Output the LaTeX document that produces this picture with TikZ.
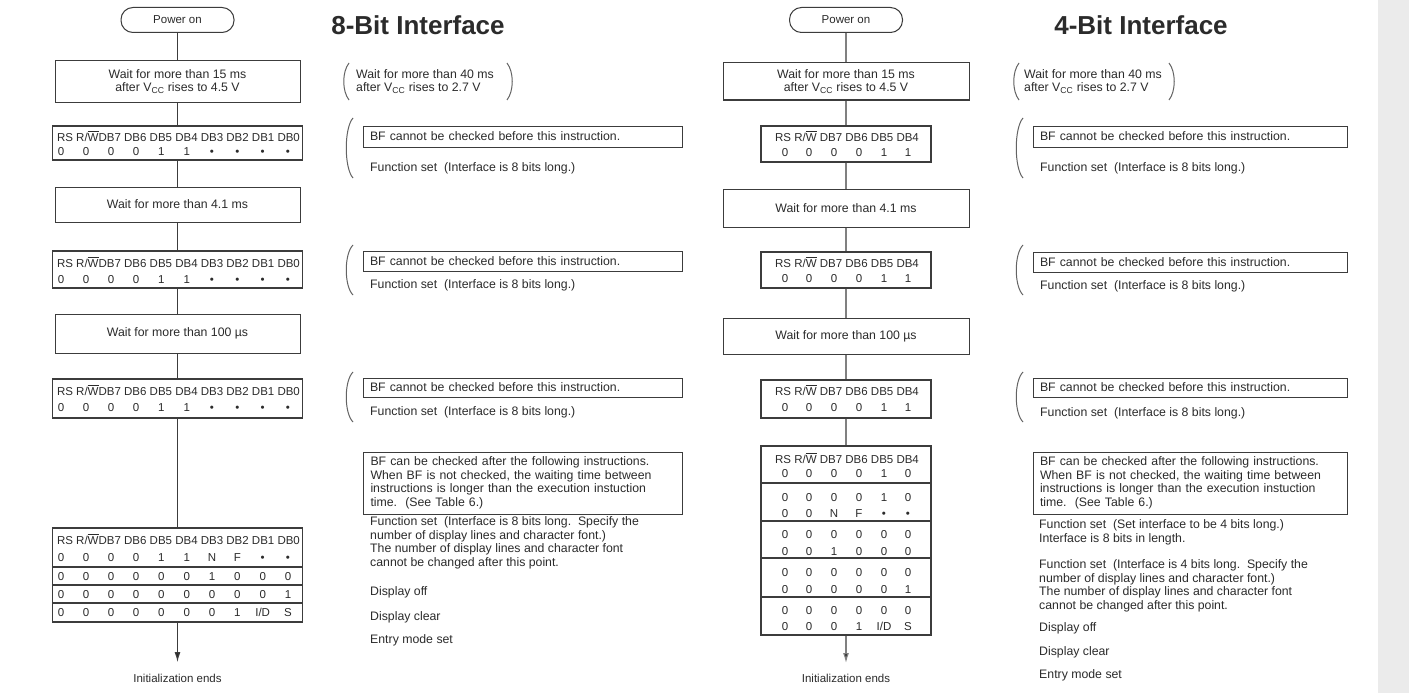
\documentclass[tikz,border=0pt]{standalone}
\usepackage{fontspec}
\setmainfont{Liberation Sans}
\usetikzlibrary{positioning}
\usetikzlibrary{arrows.meta}

\definecolor{ink}{HTML}{2B2B2B}
\definecolor{rule}{HTML}{3C3C3C}
\definecolor{soft}{HTML}{808080}
\definecolor{panel}{HTML}{EBEBEB}

\newcommand\ovl[1]{$\overline{\mbox{#1}}$}
\newcommand\vcc{V\textsubscript{CC}}
\newcommand\bitrow[3]{%
  \foreach \bit [count=\i from 0] in {#3} {
    \pgfmathsetmacro\cx{#1[\i]}
    \node[cell] at (\cx,#2) {\bit};
  }}
\def\colA{{61,86,111,136,161.3,186.7,212,237.3,262.7,288}}
\def\colB{{785,809,834,859,884,908}}
\newcommand\hdA{RS R/\ovl{W}DB7 DB6 DB5 DB4 DB3 DB2 DB1 DB0}
\newcommand\hdB{RS R/\ovl{W} DB7 DB6 DB5 DB4}

\tikzset{
  every node/.style={text=ink},
  txt/.style={font=\fontsize{12.3}{13.5}\selectfont, inner sep=0pt},
  cell/.style={font=\fontsize{11.5}{12}\selectfont, inner sep=0pt, text height=8pt, text depth=0pt},
  startbox/.style={draw=rule, line width=1pt, rounded corners=12pt, minimum width=113pt, minimum height=25pt, font=\fontsize{11.5}{12}\selectfont},
  waitbox/.style={draw=rule, line width=1pt, txt, align=center},
  bittable/.style={draw=rule, line width=1.2pt, inner sep=0pt},
  notebox/.style={draw=rule, line width=1pt, txt, align=left},
  note/.style={txt, anchor=west, align=left},
  flow/.style={draw=rule, line width=1pt},
  flowb/.style={draw=soft, line width=1.2pt},
  brk/.style={draw=rule!80, line width=1pt},
  tip/.style={-{Latex[length=10pt,width=6pt,fill=ink]}},
}

\begin{document}
\begin{tikzpicture}[x=1pt,y=-1pt]
\useasboundingbox (0,0) rectangle (1409,693);
\fill[white] (0,0) rectangle (1409,693);
\fill[panel] (1378,0) rectangle (1409,693);

% 8-bit interface
\node[font=\fontsize{26}{30}\selectfont\bfseries, inner sep=0pt] (titleA) at (418,25) {8-Bit Interface};

\node[startbox] (pwA) at (177.5,20) {Power on};
\node[waitbox, minimum width=245pt, minimum height=41pt] (w1A) at (177.5,81.5) {Wait for more than 15 ms\\after \vcc{} rises to 4.5 V};
\node[bittable, minimum width=250pt, minimum height=34pt] (t1A) at (177.5,143) {};
\node[waitbox, minimum width=245pt, minimum height=35pt] (w2A) at (177.5,204.5) {Wait for more than 4.1 ms};
\node[bittable, minimum width=250pt, minimum height=37pt] (t2A) at (177.5,269.5) {};
\node[waitbox, minimum width=245pt, minimum height=39pt] (w3A) at (177.5,333.5) {Wait for more than 100 µs};
\node[bittable, minimum width=250pt, minimum height=39pt] (t3A) at (177.5,398.5) {};
\node[bittable, minimum width=250pt, minimum height=94pt] (t4A) at (177.5,575) {};
\coordinate (endA) at (177.5,662);
\node[cell] (ieA) at (177.5,678) {Initialization ends};

\node[cell] (h1A) at (178.5,137) {\hdA};
\bitrow{\colA}{151}{0,0,0,0,1,1,•,•,•,•}
\node[cell] (h2A) at (178.5,263) {\hdA};
\bitrow{\colA}{279}{0,0,0,0,1,1,•,•,•,•}
\node[cell] (h3A) at (178.5,391) {\hdA};
\bitrow{\colA}{407}{0,0,0,0,1,1,•,•,•,•}
\node[cell] (h4A) at (178.5,540) {\hdA};
\bitrow{\colA}{557}{0,0,0,0,1,1,N,F,•,•}
\bitrow{\colA}{576}{0,0,0,0,0,0,1,0,0,0}
\bitrow{\colA}{594}{0,0,0,0,0,0,0,0,0,1}
\bitrow{\colA}{612}{0,0,0,0,0,0,0,1,I/D,S}
\foreach \yy in {567,585,603}
  \draw[bittable] (t4A.west |- 0,\yy) -- (t4A.east |- 0,\yy);

\draw[flow] (pwA) -- (w1A);
\draw[flow] (w1A) -- (t1A);
\draw[flow] (t1A) -- (w2A);
\draw[flow] (w2A) -- (t2A);
\draw[flow] (t2A) -- (w3A);
\draw[flow] (w3A) -- (t3A);
\draw[flow] (t3A) -- (t4A);
\draw[flow,tip] (t4A) -- (endA);

% notes, 8-bit
\draw[brk] (349,63) .. controls (342,72) and (342,91) .. (349,100);
\draw[brk] (507,63) .. controls (514,72) and (514,91) .. (507,100);
\node[note] (vccA) at (356,81.5) {Wait for more than 40 ms\\after \vcc{} rises to 2.7 V};

\draw[brk] (353,118) .. controls (344,128) and (344,168) .. (353,178);
\node[notebox, text width=305pt, minimum width=319pt, minimum height=21pt] (bf1A) at (522.5,136.5) {BF cannot be checked before this instruction.};
\node[note] (fs1A) at (370,168) {Function set\ \ (Interface is 8 bits long.)};

\draw[brk] (353,245) .. controls (344,254) and (344,286) .. (353,295);
\node[notebox, text width=305pt, minimum width=319pt, minimum height=20pt] (bf2A) at (522.5,261) {BF cannot be checked before this instruction.};
\node[note] (fs2A) at (370,285) {Function set\ \ (Interface is 8 bits long.)};

\draw[brk] (353,372) .. controls (344,381) and (344,413) .. (353,422);
\node[notebox, text width=305pt, minimum width=319pt, minimum height=19pt] (bf3A) at (522.5,387.5) {BF cannot be checked before this instruction.};
\node[note] (fs3A) at (370,412) {Function set\ \ (Interface is 8 bits long.)};

\node[notebox, text width=305pt, minimum width=319pt, minimum height=62pt] (bf4A) at (523,483) {BF can be checked after the following instructions.\\When BF is not checked, the waiting time between\\instructions is longer than the execution instuction\\time.\ \ (See Table 6.)};
\node[note] (fs4A) at (370,543) {Function set\ \ (Interface is 8 bits long.\ \ Specify the\\number of display lines and character font.)\\The number of display lines and character font\\cannot be changed after this point.};
\node[note] (offA) at (370,592) {Display off};
\node[note] (clrA) at (370,617) {Display clear};
\node[note] (entA) at (370,640) {Entry mode set};

% 4-bit interface
\node[font=\fontsize{26}{30}\selectfont\bfseries, inner sep=0pt] (titleB) at (1141,25) {4-Bit Interface};

\node[startbox] (pwB) at (846,20) {Power on};
\node[waitbox, minimum width=246pt, minimum height=37pt] (w1B) at (846,81.5) {Wait for more than 15 ms\\after \vcc{} rises to 4.5 V};
\node[bittable, minimum width=170pt, minimum height=36pt] (t1B) at (846,144) {};
\node[waitbox, minimum width=246pt, minimum height=38pt] (w2B) at (846,208) {Wait for more than 4.1 ms};
\node[bittable, minimum width=170pt, minimum height=36pt] (t2B) at (846,270) {};
\node[waitbox, minimum width=246pt, minimum height=36pt] (w3B) at (846,336) {Wait for more than 100 µs};
\node[bittable, minimum width=170pt, minimum height=38pt] (t3B) at (846,399) {};
\node[bittable, minimum width=170pt, minimum height=189pt] (t4B) at (846,540.5) {};
\coordinate (endB) at (846,663);
\node[cell] (ieB) at (846,678) {Initialization ends};

\node[cell] (h1B) at (847,137) {\hdB};
\bitrow{\colB}{152}{0,0,0,0,1,1}
\node[cell] (h2B) at (847,263) {\hdB};
\bitrow{\colB}{278}{0,0,0,0,1,1}
\node[cell] (h3B) at (847,391) {\hdB};
\bitrow{\colB}{407}{0,0,0,0,1,1}
\node[cell] (h4B) at (847,459) {\hdB};
\bitrow{\colB}{473}{0,0,0,0,1,0}
\bitrow{\colB}{497}{0,0,0,0,1,0}
\bitrow{\colB}{513}{0,0,N,F,•,•}
\bitrow{\colB}{534}{0,0,0,0,0,0}
\bitrow{\colB}{551}{0,0,1,0,0,0}
\bitrow{\colB}{572}{0,0,0,0,0,0}
\bitrow{\colB}{589}{0,0,0,0,0,1}
\bitrow{\colB}{610}{0,0,0,0,0,0}
\bitrow{\colB}{626}{0,0,0,1,I/D,S}
\foreach \yy in {483,521,558,597}
  \draw[bittable] (t4B.west |- 0,\yy) -- (t4B.east |- 0,\yy);

\draw[flowb] (pwB) -- (w1B);
\draw[flowb] (w1B) -- (t1B);
\draw[flowb] (t1B) -- (w2B);
\draw[flowb] (w2B) -- (t2B);
\draw[flowb] (t2B) -- (w3B);
\draw[flowb] (w3B) -- (t3B);
\draw[flowb] (t3B) -- (t4B);
\draw[flowb,tip] (t4B) -- (endB);

% notes, 4-bit
\draw[brk] (1019,63) .. controls (1012,72) and (1012,91) .. (1019,100);
\draw[brk] (1169,63) .. controls (1176,72) and (1176,91) .. (1169,100);
\node[note] (vccB) at (1024,81.5) {Wait for more than 40 ms\\after \vcc{} rises to 2.7 V};

\draw[brk] (1023,118) .. controls (1014,128) and (1014,168) .. (1023,178);
\node[notebox, text width=300pt, minimum width=314pt, minimum height=21pt] (bf1B) at (1190,136.5) {BF cannot be checked before this instruction.};
\node[note] (fs1B) at (1040,168) {Function set\ \ (Interface is 8 bits long.)};

\draw[brk] (1023,245) .. controls (1014,254) and (1014,286) .. (1023,295);
\node[notebox, text width=300pt, minimum width=314pt, minimum height=20pt] (bf2B) at (1190,262) {BF cannot be checked before this instruction.};
\node[note] (fs2B) at (1040,286) {Function set\ \ (Interface is 8 bits long.)};

\draw[brk] (1023,372) .. controls (1014,381) and (1014,413) .. (1023,422);
\node[notebox, text width=300pt, minimum width=314pt, minimum height=19pt] (bf3B) at (1190,387.5) {BF cannot be checked before this instruction.};
\node[note] (fs3B) at (1040,413) {Function set\ \ (Interface is 8 bits long.)};

\node[notebox, text width=300pt, minimum width=314pt, minimum height=62pt] (bf4B) at (1190,483) {BF can be checked after the following instructions.\\When BF is not checked, the waiting time between\\instructions is longer than the execution instuction\\time.\ \ (See Table 6.)};
\node[note] (fs4B) at (1039,532.5) {Function set\ \ (Set interface to be 4 bits long.)\\Interface is 8 bits in length.};
\node[note] (fs5B) at (1039,586) {Function set\ \ (Interface is 4 bits long.\ \ Specify the\\number of display lines and character font.)\\The number of display lines and character font\\cannot be changed after this point.};
\node[note] (offB) at (1039,628) {Display off};
\node[note] (clrB) at (1039,652) {Display clear};
\node[note] (entB) at (1039,675) {Entry mode set};
\end{tikzpicture}
\end{document}
